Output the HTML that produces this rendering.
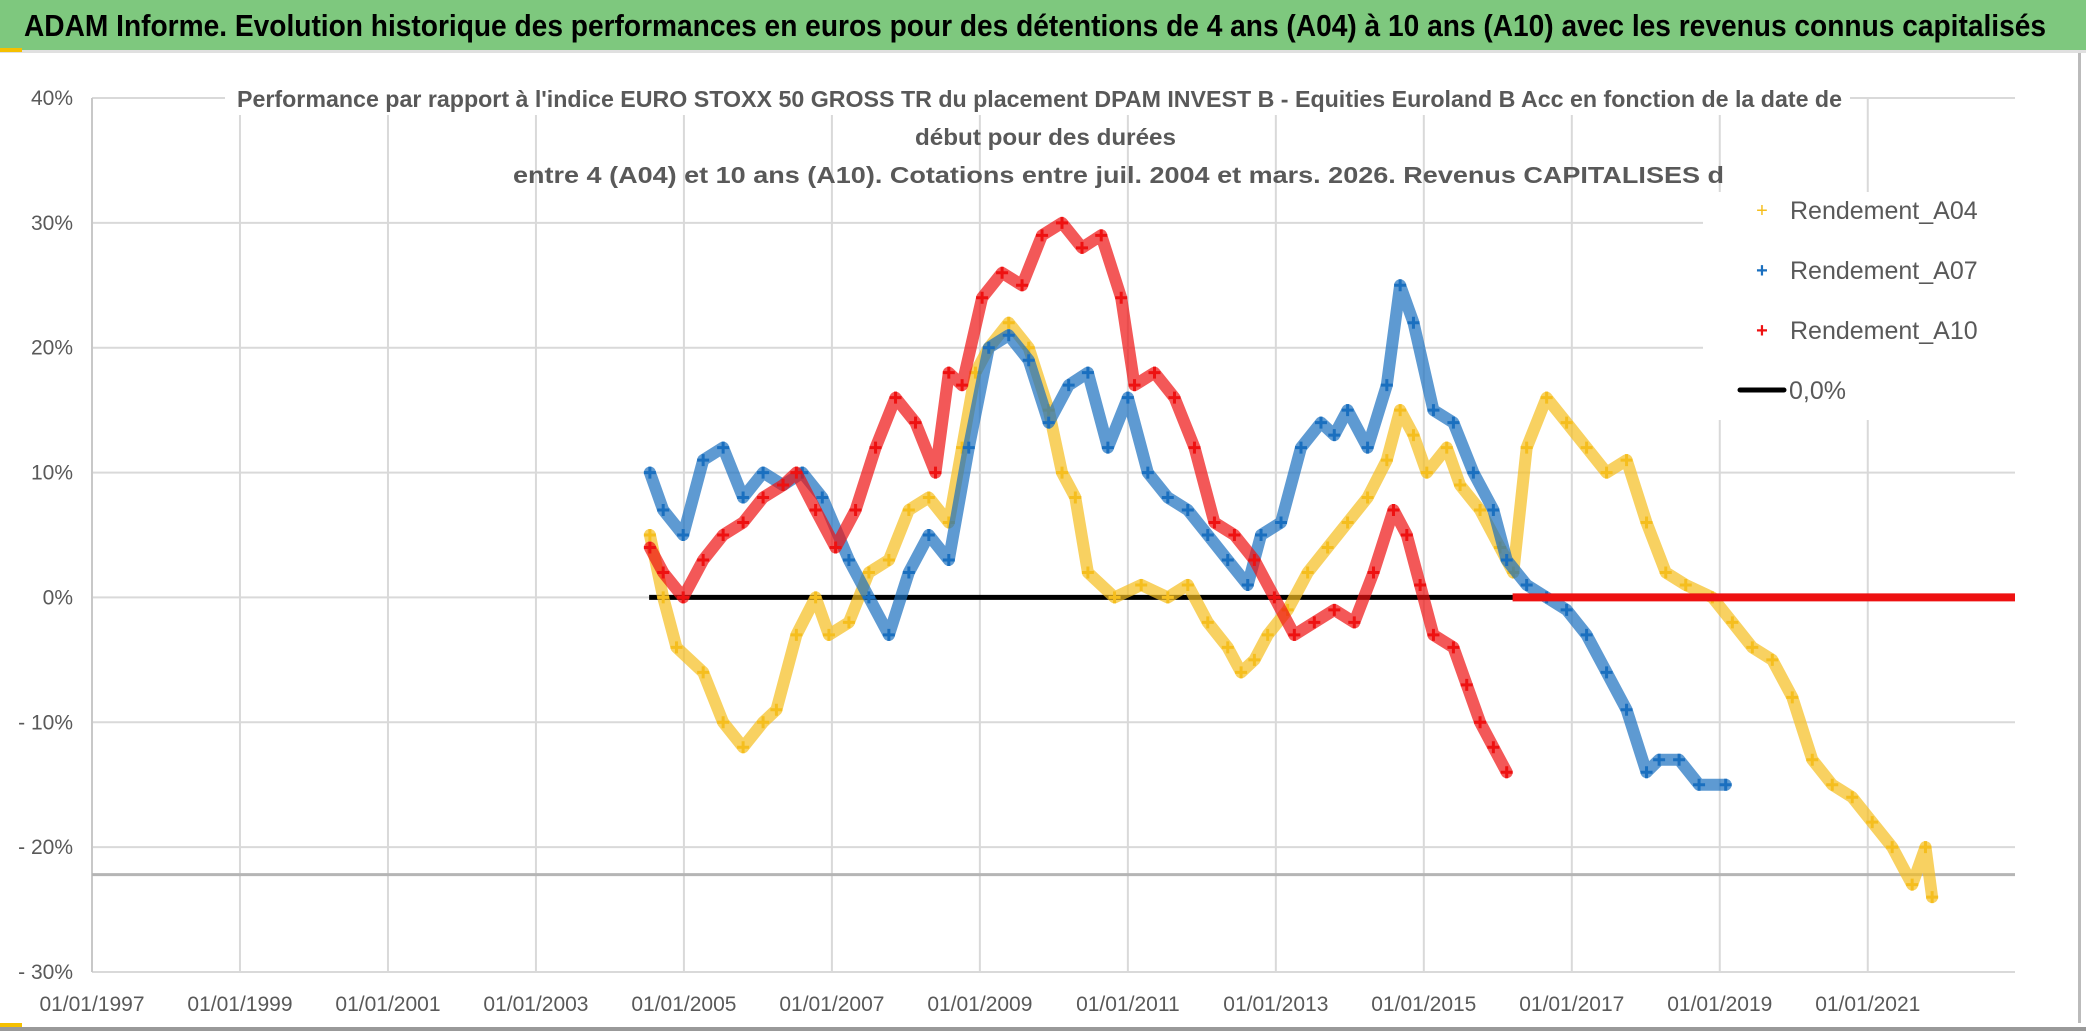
<!DOCTYPE html>
<html><head><meta charset="utf-8"><style>
html,body{margin:0;padding:0;background:#fff;}
svg{display:block;font-family:"Liberation Sans",sans-serif;}
</style></head><body>
<svg id="chart" width="2086" height="1031" viewBox="0 0 2086 1031" xmlns="http://www.w3.org/2000/svg">
<rect x="0" y="0" width="2086" height="1031" fill="#fff"/>
<rect x="0" y="0" width="2086" height="50" fill="#7ec87e"/>
<rect x="0" y="50" width="2086" height="3" fill="#e0e0e0"/>
<rect x="0" y="48" width="22" height="4" fill="#f5c000"/>
<rect x="0" y="1023" width="22" height="8" fill="#f5c000"/>
<rect x="0" y="1027" width="2086" height="4" fill="#999"/>
<rect x="2078" y="53" width="3" height="970" fill="#bbb"/>
<text x="24" y="36" font-size="31" font-weight="bold" fill="#000" textLength="2022" lengthAdjust="spacingAndGlyphs">ADAM Informe. Evolution historique des performances en euros pour des détentions de 4 ans (A04) à 10 ans (A10) avec les revenus connus capitalisés</text>
<g id="grid"></g>
<g id="marks"></g>
<rect x="225" y="85" width="1625" height="30" fill="#fff"/>
<g id="legend">
<rect x="1703" y="192" width="312" height="228" fill="#fff"/>
<g><text x="1762" y="217" font-size="20" fill="#f5be1e" text-anchor="middle">+</text><text x="1790" y="219" font-size="25" fill="#595959">Rendement_A04</text></g>
<g><text x="1762" y="277" font-size="20" fill="#1a6fbf" text-anchor="middle" font-weight="bold">+</text><text x="1790" y="279" font-size="25" fill="#595959">Rendement_A07</text></g>
<g><text x="1762" y="337" font-size="20" fill="#ee1111" text-anchor="middle" font-weight="bold">+</text><text x="1790" y="339" font-size="25" fill="#595959">Rendement_A10</text></g>
<g><line x1="1740" y1="390" x2="1784" y2="390" stroke="#000" stroke-width="5" stroke-linecap="round"/><text x="1789" y="399" font-size="25" fill="#595959">0,0%</text></g>
</g>
<text x="237" y="107" font-size="23" font-weight="bold" fill="#595959" textLength="1605" lengthAdjust="spacingAndGlyphs">Performance par rapport à l'indice EURO STOXX 50 GROSS TR  du placement DPAM INVEST B - Equities Euroland B Acc en fonction de la date de</text>
<text x="915" y="145" font-size="23" font-weight="bold" fill="#595959" textLength="261" lengthAdjust="spacingAndGlyphs">début pour des durées</text>
<text x="513" y="183" font-size="23" font-weight="bold" fill="#595959" textLength="1211" lengthAdjust="spacingAndGlyphs">entre 4 (A04) et 10 ans (A10). Cotations entre juil. 2004 et mars. 2026. Revenus CAPITALISES d</text>
</svg>
<script>
const yTicks = [40, 30, 20, 10, 0, -10, -20, -30];
const yTickLabels = ["40%", "30%", "20%", "10%", "0%", "- 10%", "- 20%", "- 30%"];
const xTicks = [1997, 1999, 2001, 2003, 2005, 2007, 2009, 2011, 2013, 2015, 2017, 2019, 2021];
const xTickLabels = ["01/01/1997","01/01/1999","01/01/2001","01/01/2003","01/01/2005","01/01/2007","01/01/2009","01/01/2011","01/01/2013","01/01/2015","01/01/2017","01/01/2019","01/01/2021"];
const refLineValue = -22.2;
const zeroLineStart = 2004.53;
const zeroLineEnd = 2022.99;
const a10ZeroStart = 2016.2;
const a10ZeroEnd = 2022.99;

const a04Dates = [2004.54,2004.72,2004.90,2005.26,2005.53,2005.80,2006.07,2006.25,2006.52,2006.78,2006.96,2007.23,2007.50,2007.77,2008.04,2008.31,2008.58,2008.76,2008.94,2009.12,2009.39,2009.66,2009.93,2010.11,2010.29,2010.46,2010.82,2011.18,2011.54,2011.81,2012.08,2012.35,2012.53,2012.71,2012.89,2013.16,2013.43,2013.70,2013.97,2014.24,2014.50,2014.68,2014.86,2015.04,2015.31,2015.49,2015.76,2016.03,2016.21,2016.39,2016.66,2016.93,2017.20,2017.47,2017.74,2018.01,2018.27,2018.54,2018.90,2019.17,2019.44,2019.71,2019.98,2020.25,2020.52,2020.79,2021.06,2021.33,2021.60,2021.78,2021.87];
const a04Values = [5,0,-4,-6,-10,-12,-10,-9,-3,0,-3,-2,2,3,7,8,6,12,18,20,22,20,15,10,8,2,0,1,0,1,-2,-4,-6,-5,-3,-1,2,4,6,8,11,15,13,10,12,9,7,4,2,12,16,14,12,10,11,6,2,1,0,-2,-4,-5,-8,-13,-15,-16,-18,-20,-23,-20,-24];

const a07Dates = [2004.54,2004.72,2004.99,2005.26,2005.53,2005.80,2006.07,2006.34,2006.60,2006.87,2007.23,2007.50,2007.77,2008.04,2008.31,2008.58,2008.85,2009.12,2009.39,2009.66,2009.93,2010.20,2010.46,2010.73,2011.00,2011.27,2011.54,2011.81,2012.08,2012.35,2012.62,2012.80,2013.07,2013.34,2013.61,2013.79,2013.97,2014.24,2014.50,2014.68,2014.86,2015.13,2015.40,2015.67,2015.94,2016.12,2016.39,2016.66,2016.93,2017.20,2017.47,2017.74,2018.01,2018.18,2018.45,2018.72,2019.08];
const a07Values = [10,7,5,11,12,8,10,9,10,8,3,0,-3,2,5,3,12,20,21,19,14,17,18,12,16,10,8,7,5,3,1,5,6,12,14,13,15,12,17,25,22,15,14,10,7,3,1,0,-1,-3,-6,-9,-14,-13,-13,-15,-15];

const a10Dates = [2004.54,2004.72,2004.99,2005.26,2005.53,2005.80,2006.07,2006.34,2006.52,2006.78,2007.05,2007.32,2007.59,2007.86,2008.13,2008.40,2008.58,2008.76,2009.03,2009.30,2009.57,2009.84,2010.11,2010.38,2010.64,2010.91,2011.09,2011.36,2011.63,2011.90,2012.17,2012.44,2012.71,2012.98,2013.25,2013.52,2013.79,2014.06,2014.32,2014.59,2014.77,2014.95,2015.13,2015.40,2015.58,2015.76,2015.94,2016.12];
const a10Values = [4,2,0,3,5,6,8,9,10,7,4,7,12,16,14,10,18,17,24,26,25,29,30,28,29,24,17,18,16,12,6,5,3,0,-3,-2,-1,-2,2,7,5,1,-3,-4,-7,-10,-12,-14];

const SVGNS = "http://www.w3.org/2000/svg";
const plot = {left: 92, right: 2015, top: 98, bottom: 972};
const xMin = 1997, xMax = 2022.99, yMax = 40, yMin = -30;
function xScale(t){ return plot.left + (t - xMin) / (xMax - xMin) * (plot.right - plot.left); }
function yScale(v){ return plot.top + (yMax - v) / (yMax - yMin) * (plot.bottom - plot.top); }
function mk(tag, attrs, parent){ const e = document.createElementNS(SVGNS, tag); for (const k in attrs) e.setAttribute(k, attrs[k]); parent.appendChild(e); return e; }

const grid = document.getElementById('grid');
yTicks.forEach((v, i) => {
  const y = yScale(v);
  const l = mk('line', {x1: plot.left, x2: plot.right, y1: y, y2: y, stroke: '#d9d9d9', 'stroke-width': 2}, grid);
  
  
  const t = mk('text', {x: 73, y: y + 7, 'font-size': 21, fill: '#595959', 'text-anchor': 'end'}, grid);
  t.textContent = yTickLabels[i];
  
  
});
xTicks.forEach((yr, i) => {
  const x = xScale(yr);
  const l = mk('line', {x1: x, x2: x, y1: plot.top, y2: plot.bottom, stroke: '#d9d9d9', 'stroke-width': 2}, grid);
  
  
  const t = mk('text', {x: x, y: 1011, 'font-size': 21, fill: '#595959', 'text-anchor': 'middle'}, grid);
  t.textContent = xTickLabels[i];
  
  
});
const ax = mk('line', {x1: plot.left, x2: plot.left, y1: plot.top, y2: plot.bottom, stroke: '#c8c8c8', 'stroke-width': 2}, grid);


const ref = mk('line', {x1: plot.left, x2: plot.right, y1: yScale(refLineValue), y2: yScale(refLineValue), stroke: '#b5b5b5', 'stroke-width': 3}, grid);



const marks = document.getElementById('marks');
const zl = mk('line', {x1: xScale(zeroLineStart), x2: xScale(zeroLineEnd), y1: yScale(0), y2: yScale(0), stroke: '#000', 'stroke-width': 5}, marks);



function drawSeries(dates, vals, color, name){
  const g = mk('g', {}, marks);
  
  
  const pts = dates.map((d, i) => xScale(d).toFixed(1) + ',' + yScale(vals[i]).toFixed(1)).join(' ');
  const band = mk('polyline', {points: pts, fill: 'none', stroke: color, 'stroke-width': 12, 'stroke-linejoin': 'round', 'stroke-linecap': 'round', opacity: 0.7}, g);
  
  
  dates.forEach((d, i) => {
    const x = xScale(d), y = yScale(vals[i]);
    const p = mk('path', {d: `M${x-6} ${y}H${x+6}M${x} ${y-6}V${y+6}`, stroke: color, 'stroke-width': 3}, g);
    
    
  });
}
drawSeries(a04Dates, a04Values, '#f5be1e', 'a04');
drawSeries(a07Dates, a07Values, '#1a6fbf', 'a07');
drawSeries(a10Dates, a10Values, '#ee1111', 'a10');
const rz = mk('line', {x1: xScale(a10ZeroStart), x2: xScale(a10ZeroEnd), y1: yScale(0), y2: yScale(0), stroke: '#ee1111', 'stroke-width': 8}, marks);


</script>
</body></html>
